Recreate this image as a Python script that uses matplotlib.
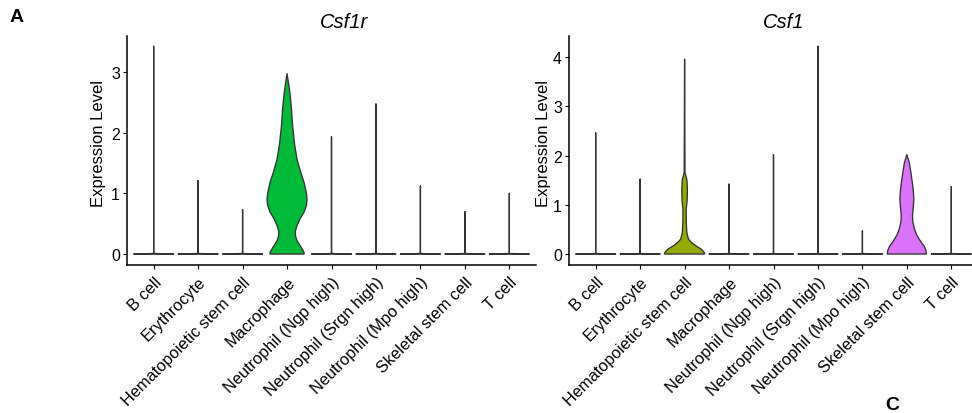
import matplotlib
matplotlib.use("Agg")
import matplotlib.pyplot as plt
import numpy as np

plt.rcParams['font.family'] = ['Liberation Sans', 'DejaVu Sans']

categories = ["B cell", "Erythrocyte", "Hematopoietic stem cell", "Macrophage",
              "Neutrophil (Ngp high)", "Neutrophil (Srgn high)", "Neutrophil (Mpo high)",
              "Skeletal stem cell", "T cell"]
group_colors = ["#F8766D", "#D39200", "#93AA00", "#00BA38", "#00C19F",
                "#00B9E3", "#619CFF", "#DB72FB", "#FF61C3"]

# maximum expression per group (top of each violin)
csf1r_max = [3.42, 1.21, 0.73, 2.97, 1.93, 2.47, 1.12, 0.70, 1.00]
csf1_max = [2.46, 1.52, 3.96, 1.42, 2.02, 4.22, 0.47, 2.02, 1.37]

# violin profiles (expression level, relative half-width)
csf1r_macrophage_y = [0, 0.03, 0.07, 0.14, 0.22, 0.30, 0.38, 0.47, 0.58, 0.69, 0.80, 0.90,
                      1.00, 1.18, 1.35, 1.56, 1.80, 2.11, 2.40, 2.66, 2.80, 2.97]
csf1r_macrophage_w = [0.85, 0.85, 0.78, 0.65, 0.50, 0.42, 0.42, 0.50, 0.65, 0.85, 0.97, 1.0,
                      0.97, 0.85, 0.68, 0.50, 0.38, 0.28, 0.22, 0.14, 0.08, 0.0]
csf1_hsc_y = [0, 0.02, 0.05, 0.10, 0.17, 0.24, 0.30, 0.37, 0.45, 0.64, 0.90, 1.10, 1.30,
              1.50, 1.66, 3.96]
csf1_hsc_w = [1.0, 1.0, 0.95, 0.83, 0.55, 0.33, 0.20, 0.15, 0.11, 0.085, 0.08, 0.13, 0.14,
              0.12, 0.02, 0.0]
csf1_skeletal_y = [0, 0.08, 0.17, 0.22, 0.30, 0.40, 0.51, 0.65, 0.78, 0.95, 1.12, 1.30,
                   1.46, 1.66, 1.86, 2.02]
csf1_skeletal_w = [0.98, 0.95, 0.85, 0.75, 0.62, 0.48, 0.38, 0.30, 0.28, 0.32, 0.35, 0.32,
                   0.27, 0.20, 0.12, 0.0]

flat_y_frac = [0.0, 0.008, 1.0]
flat_w = [1.0, 0.0, 0.0]

genes = ["Csf1r", "Csf1"]
gene_max = [csf1r_max, csf1_max]
gene_shapes = [
    {3: (csf1r_macrophage_y, csf1r_macrophage_w)},
    {2: (csf1_hsc_y, csf1_hsc_w), 7: (csf1_skeletal_y, csf1_skeletal_w)},
]
y_ticks = [[0, 1, 2, 3], [0, 1, 2, 3, 4]]
y_lims = [(-0.18, 3.59), (-0.223, 4.43)]

W, H = 972, 414
fig = plt.figure(figsize=(W / 100, H / 100), dpi=100)

ax_left_px = [127, 569]
ax_w_px = 409
ax_top_px, ax_bot_px = 37, 266
title_x_px = [344, 784]
ylabel_x_px = [98, 543]
half = 0.45

for gi in range(2):
    ax = fig.add_axes([ax_left_px[gi] / W, (H - ax_bot_px) / H,
                       ax_w_px / W, (ax_bot_px - ax_top_px) / H])
    xs = np.arange(1, len(categories) + 1)
    for i, c in enumerate(xs):
        if i in gene_shapes[gi]:
            yy, ww = gene_shapes[gi][i]
            yy = np.array(yy, dtype=float)
            ww = np.array(ww, dtype=float)
        else:
            yy = np.array(flat_y_frac) * gene_max[gi][i]
            yy[1] = 0.01
            ww = np.array(flat_w)
        px = np.concatenate([c - half * ww, (c + half * ww)[::-1]])
        py = np.concatenate([yy, yy[::-1]])
        ax.fill(px, py, facecolor=group_colors[i], edgecolor='#333333',
                linewidth=0.95, joinstyle='round')
    ax.set_xlim(0.4, len(categories) + 0.6)
    ax.set_ylim(*y_lims[gi])
    ax.set_xticks(xs)
    ax.set_xticklabels(categories, rotation=45, ha='right', va='top',
                       rotation_mode='anchor', fontsize=11.8)
    ax.set_yticks(y_ticks[gi])
    ax.set_yticklabels([str(t) for t in y_ticks[gi]], fontsize=11.5)
    for s in ['top', 'right']:
        ax.spines[s].set_visible(False)
    for s in ['left', 'bottom']:
        ax.spines[s].set_linewidth(1.1)
        ax.spines[s].set_color('black')
    ax.tick_params(axis='both', length=3, width=0.8, colors='black', pad=2)
    ax.tick_params(axis='x', pad=3.5)
    fig.text(ylabel_x_px[gi] / W, 1 - 143.5 / H, "Expression Level", rotation=90,
             ha='center', va='center', fontsize=12)
    fig.text(title_x_px[gi] / W, 1 - 22 / H, genes[gi], style='italic',
             ha='center', va='center', fontsize=14.5)

fig.text(17 / W, 1 - 17 / H, "A", fontweight='bold', ha='center', va='center', fontsize=14)
fig.text(892 / W, 1 - 406 / H, "C", fontweight='bold', ha='center', va='center', fontsize=14)

fig.savefig("out.png", dpi=100)
